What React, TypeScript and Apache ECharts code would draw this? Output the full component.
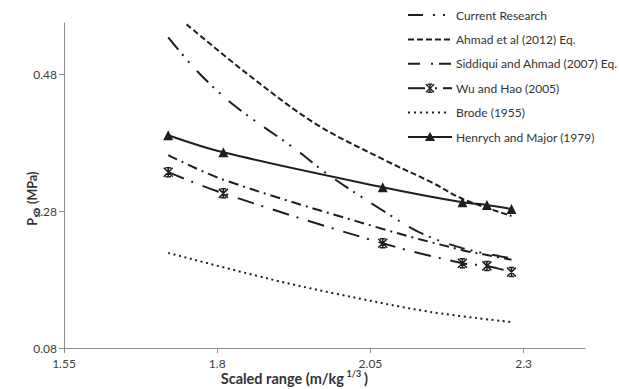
import React, { useEffect, useRef } from 'react';
import * as echarts from 'echarts';

// ---- Data ----
const xTicks = [1.55, 1.8, 2.05, 2.3];
const yTicks = [0.08, 0.28, 0.48];

const seriesNames = [
  'Current Research',
  'Ahmad et al (2012) Eq.',
  'Siddiqui and Ahmad (2007) Eq.',
  'Wu and Hao (2005)',
  'Brode (1955)',
  'Henrych and Major (1979)',
];

// shared scaled-range points (markers)
const pointX = [1.72, 1.81, 2.07, 2.2, 2.24, 2.28];
const henrychY = [0.391, 0.366, 0.315, 0.293, 0.289, 0.283];
const wuY = [0.337, 0.306, 0.233, 0.204, 0.2, 0.191];
const siddiquiY = [0.362, 0.326, 0.254, 0.223, 0.216, 0.209];

const currentX = [1.72, 1.77, 1.83, 1.93, 1.98, 2.07, 2.13, 2.2, 2.28];
const currentY = [0.534, 0.482, 0.433, 0.369, 0.334, 0.281, 0.249, 0.226, 0.211];

const ahmadX = [1.75, 1.85, 1.96, 2.07, 2.15, 2.2, 2.28];
const ahmadY = [0.553, 0.48, 0.408, 0.356, 0.322, 0.298, 0.273];

const brodeX = [1.72, 1.885, 1.99, 2.146, 2.28];
const brodeY = [0.219, 0.181, 0.16, 0.133, 0.118];

const pairs = (xs: number[], ys: number[]) => xs.map((x, i) => [x, ys[i]]);

const INK = '#1e1e1e';
const AXIS = '#8c8c8c';
const FONT = 'Lato';
const TITLE = '#333333';

const DASH_CURRENT = [16, 6, 2, 7, 2, 11];
const DASH_AHMAD = [6, 3];
const DASH_SIDDIQUI = [10, 5, 2, 5];
const DASH_WU = [17, 8, 2, 10];
const DASH_BRODE = [2, 3.6];

const STAR_PATH = 'path://M0,0L10,10M10,0L0,10M5,0L5,10M2,0L8,0M2,10L8,10';

function starLines(cx: number, cy: number, s: number) {
  const h = s / 2;
  const st = { stroke: INK, lineWidth: 1.4 };
  const seg = (x1: number, y1: number, x2: number, y2: number) => ({
    type: 'line',
    shape: { x1, y1, x2, y2 },
    style: st,
    silent: true,
  });
  return [
    seg(cx - h, cy - h, cx + h, cy + h),
    seg(cx + h, cy - h, cx - h, cy + h),
    seg(cx, cy - h, cx, cy + h),
    seg(cx - h * 0.6, cy - h, cx + h * 0.6, cy - h),
    seg(cx - h * 0.6, cy + h, cx + h * 0.6, cy + h),
  ];
}

function buildLegend() {
  const x0 = 408;
  const x1 = 451;
  const textX = 456;
  const rowY = (i: number) => 15 + i * 24.4;
  const els: any[] = [];
  const line = (y: number, dash: any, xa = x0, xb = x1) => ({
    type: 'line',
    shape: { x1: xa, y1: y, x2: xb, y2: y },
    style: { stroke: INK, lineWidth: 2, lineDash: dash, lineCap: 'butt' },
    silent: true,
  });
  els.push(line(rowY(0), [15, 10, 2, 8, 2, 40]));
  els.push(line(rowY(1), [6, 3]));
  els.push(line(rowY(2), [12, 11, 2, 6, 12, 20]));
  els.push(line(rowY(3), null, x0, 425));
  els.push(...starLines(430, rowY(3), 8));
  els.push(line(rowY(3), null, 435, 437));
  els.push(line(rowY(3), null, 443, 452));
  els.push(line(rowY(4), [2, 4], x0, 449));
  els.push(line(rowY(5), null, x0, 452));
  els.push({
    type: 'polygon',
    shape: { points: [[430, rowY(5) - 5], [425, rowY(5) + 4], [435, rowY(5) + 4]] },
    style: { fill: INK },
    silent: true,
  });
  seriesNames.forEach((name, i) => {
    els.push({
      type: 'text',
      x: textX,
      y: rowY(i),
      style: {
        text: name,
        fontFamily: FONT,
        fontSize: 12,
        fill: '#333333',
        align: 'left',
        verticalAlign: 'middle',
      },
      silent: true,
    });
  });
  return els;
}

function buildTitles() {
  const els: any[] = [];
  const t = (text: string, px: number, py: number, size: number, align: string, rot = 0) => ({
    type: 'text',
    x: px,
    y: py,
    rotation: rot,
    style: {
      text,
      fontFamily: FONT,
      fontSize: size,
      fontWeight: 'bold',
      fill: TITLE,
      align,
      verticalAlign: 'middle',
    },
    silent: true,
  });
  // x-axis title: "Scaled range (m/kg" + superscript "1/3" + ")"
  const ax = 344;
  const cy = 378;
  els.push(t('Scaled range (m/kg', ax, cy, 14.5, 'right'));
  els.push(t('1/3', ax + 2.5, cy - 4.5, 9, 'left'));
  els.push(t(')', ax + 20, cy, 14.5, 'left'));

  // y-axis title: "P" + subscript "so" + " (MPa)", rotated to read upward
  const rot = Math.PI / 2;
  const yx = 32;
  const ay = 218;
  els.push(t('P', yx, ay, 12.5, 'right', rot));
  els.push(t('so', yx + 4, ay - 0.5, 9, 'left', rot));
  els.push(t('(MPa)', yx, ay - 14, 12.5, 'left', rot));
  return els;
}

export default function App() {
  const ref = useRef<HTMLDivElement>(null);
  useEffect(() => {
    const chart = echarts.init(ref.current!, null, { renderer: 'svg' });
    const baseLine = (name: string, data: number[][], dash: any, extra: any = {}) => ({
      name,
      type: 'line',
      data,
      smooth: 0.35,
      symbol: 'none',
      lineStyle: { color: INK, width: 2, type: dash, cap: 'butt' },
      itemStyle: { color: INK },
      ...extra,
    });
    chart.setOption({
      animation: false,
      backgroundColor: '#ffffff',
      grid: { left: 64, right: 34, top: 23, bottom: 41, containLabel: false },
      xAxis: {
        type: 'value',
        min: 1.55,
        max: 2.4,
        interval: 0.25,
        axisLine: { show: true, lineStyle: { color: AXIS, width: 1 } },
        axisTick: { show: true, length: 5, lineStyle: { color: AXIS }, customValues: xTicks },
        axisLabel: {
          customValues: xTicks,
          formatter: (v: number) => String(+v.toFixed(2)),
          color: '#404040',
          fontFamily: FONT,
          fontSize: 12,
          margin: 9,
        },
        splitLine: { show: false },
      },
      yAxis: {
        type: 'value',
        min: 0.08,
        max: 0.555,
        interval: 0.2,
        axisLine: { show: true, lineStyle: { color: AXIS, width: 1 } },
        axisTick: { show: true, length: 5, lineStyle: { color: AXIS }, customValues: yTicks },
        axisLabel: {
          customValues: yTicks,
          formatter: (v: number) => v.toFixed(2),
          color: '#404040',
          fontFamily: FONT,
          fontSize: 12,
          margin: 7,
        },
        splitLine: { show: false },
      },
      graphic: [...buildTitles(), ...buildLegend()],
      series: [
        baseLine(seriesNames[0], pairs(currentX, currentY), DASH_CURRENT),
        baseLine(seriesNames[1], pairs(ahmadX, ahmadY), DASH_AHMAD),
        baseLine(seriesNames[2], pairs(pointX, siddiquiY), DASH_SIDDIQUI),
        baseLine(seriesNames[3], pairs(pointX, wuY), DASH_WU, {
          symbol: STAR_PATH,
          symbolSize: 9,
          showSymbol: true,
          itemStyle: { color: 'transparent', borderColor: INK, borderWidth: 1.5 },
        }),
        baseLine(seriesNames[4], pairs(brodeX, brodeY), DASH_BRODE),
        baseLine(seriesNames[5], pairs(pointX, henrychY), 'solid', {
          symbol: 'triangle',
          symbolSize: 10,
          showSymbol: true,
          itemStyle: { color: INK },
        }),
      ],
    });
    return () => chart.dispose();
  }, []);
  return (
    <div
      ref={ref}
      style={{ position: 'absolute', left: 0, top: 0, width: 619, height: 389 }}
    />
  );
}
